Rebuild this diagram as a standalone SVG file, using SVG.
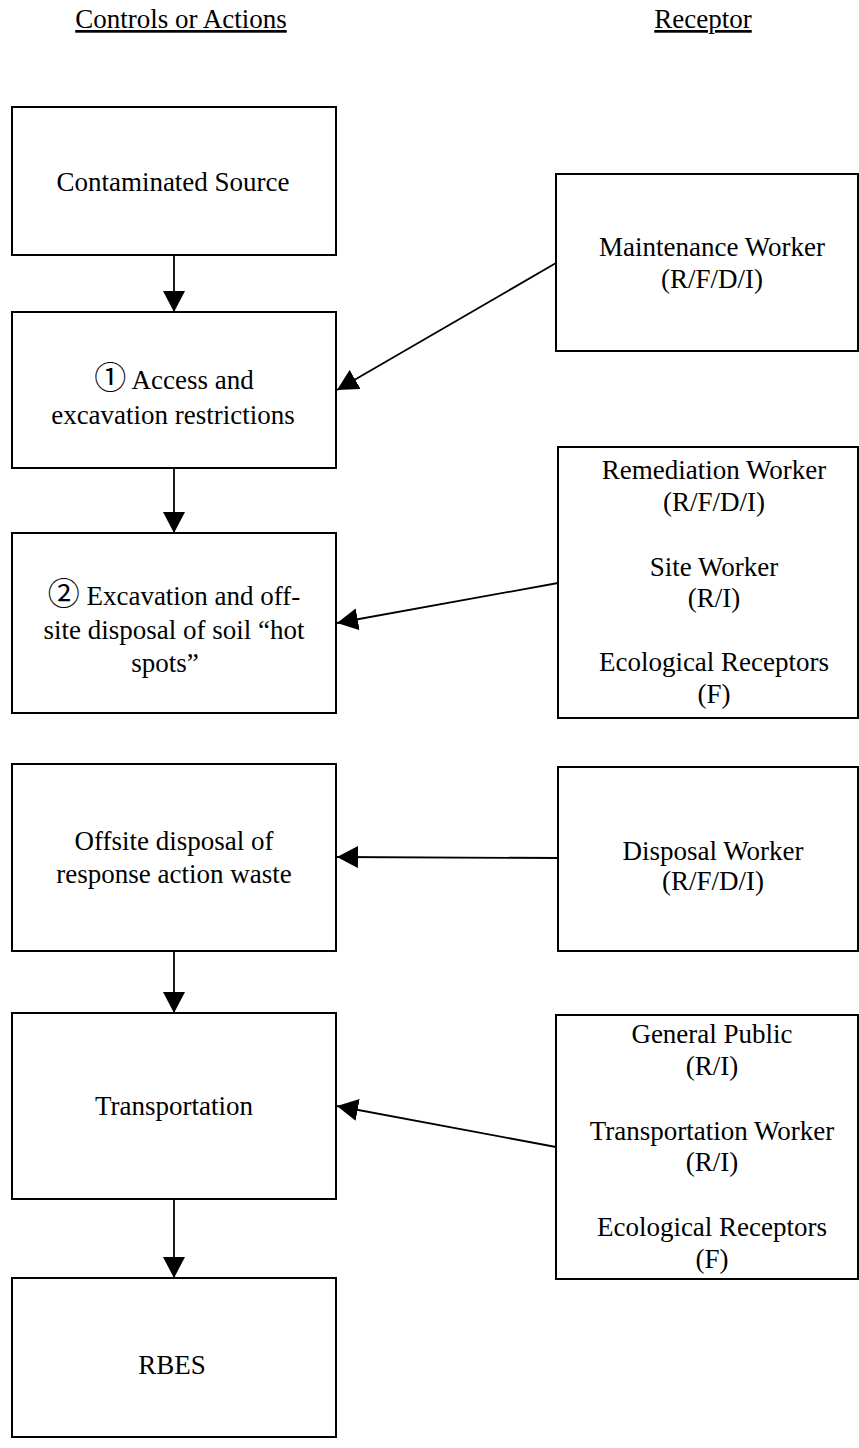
<svg xmlns="http://www.w3.org/2000/svg" width="859" height="1448" viewBox="0 0 859 1448">
  <style>
    .box { fill: #ffffff; stroke: #000000; stroke-width: 2; }
    .lbl { font-size: 27px; fill: #000000; text-anchor: middle; }
    .hdr { text-decoration: underline; }
    .num { font-size: 32px; }
    .link { fill: none; stroke: #000000; stroke-width: 1.8; marker-end: url(#head); }
  </style>
  <defs>
    <marker id="head" markerUnits="userSpaceOnUse" markerWidth="22" markerHeight="22" refX="21" refY="11" orient="auto">
      <path d="M0,0 L21,11 L0,22 Z" fill="#000000"/>
    </marker>
  </defs>
  <rect x="0" y="0" width="859" height="1448" fill="#ffffff"/>

  <g font-family="'Liberation Serif', Tinos, 'Times New Roman', 'DejaVu Serif', 'Noto Sans CJK JP', serif">
  <!-- column headings -->
  <g id="headings">
    <text class="lbl hdr" x="181" y="28">Controls or Actions</text>
    <text class="lbl hdr" x="703" y="28">Receptor</text>
  </g>

  <!-- controls / actions column -->
  <g id="contaminated-source">
    <rect class="box" x="12" y="107" width="324" height="148"/>
    <text class="lbl" x="173" y="191">Contaminated Source</text>
  </g>
  <g id="access-restrictions">
    <rect class="box" x="12" y="312" width="324" height="156"/>
    <text class="lbl" x="174" y="389"><tspan class="num">①</tspan> Access and</text>
    <text class="lbl" x="173" y="424">excavation restrictions</text>
  </g>
  <g id="hot-spot-removal">
    <rect class="box" x="12" y="533" width="324" height="180"/>
    <text class="lbl" x="174" y="605"><tspan class="num">②</tspan> Excavation and off-</text>
    <text class="lbl" x="174" y="639">site disposal of soil “hot</text>
    <text class="lbl" x="165" y="672">spots”</text>
  </g>
  <g id="offsite-disposal">
    <rect class="box" x="12" y="764" width="324" height="187"/>
    <text class="lbl" x="174" y="850">Offsite disposal of</text>
    <text class="lbl" x="174" y="883">response action waste</text>
  </g>
  <g id="transportation">
    <rect class="box" x="12" y="1013" width="324" height="186"/>
    <text class="lbl" x="174" y="1115">Transportation</text>
  </g>
  <g id="rbes">
    <rect class="box" x="12" y="1278" width="324" height="159"/>
    <text class="lbl" x="172" y="1374">RBES</text>
  </g>

  <!-- receptor column -->
  <g id="maintenance-worker">
    <rect class="box" x="556" y="174" width="302" height="177"/>
    <text class="lbl" x="712" y="256">Maintenance Worker</text>
    <text class="lbl" x="712" y="288">(R/F/D/I)</text>
  </g>
  <g id="remediation-receptors">
    <rect class="box" x="558" y="447" width="300" height="271"/>
    <text class="lbl" x="714" y="479">Remediation Worker</text>
    <text class="lbl" x="714" y="511">(R/F/D/I)</text>
    <text class="lbl" x="714" y="576">Site Worker</text>
    <text class="lbl" x="714" y="607">(R/I)</text>
    <text class="lbl" x="714" y="671">Ecological Receptors</text>
    <text class="lbl" x="714" y="703">(F)</text>
  </g>
  <g id="disposal-worker">
    <rect class="box" x="558" y="767" width="300" height="184"/>
    <text class="lbl" x="713" y="860">Disposal Worker</text>
    <text class="lbl" x="713" y="890">(R/F/D/I)</text>
  </g>
  <g id="transport-receptors">
    <rect class="box" x="556" y="1015" width="302" height="264"/>
    <text class="lbl" x="712" y="1043">General Public</text>
    <text class="lbl" x="712" y="1075">(R/I)</text>
    <text class="lbl" x="712" y="1140">Transportation Worker</text>
    <text class="lbl" x="712" y="1171">(R/I)</text>
    <text class="lbl" x="712" y="1236">Ecological Receptors</text>
    <text class="lbl" x="712" y="1268">(F)</text>
  </g>
  </g>

  <!-- connectors -->
  <g id="connectors">
    <line class="link" x1="174" y1="255" x2="174" y2="312"/>
    <line class="link" x1="174" y1="468" x2="174" y2="533"/>
    <line class="link" x1="174" y1="951" x2="174" y2="1013"/>
    <line class="link" x1="174" y1="1199" x2="174" y2="1278"/>
    <line class="link" x1="556" y1="263" x2="337" y2="390"/>
    <line class="link" x1="558" y1="583" x2="337" y2="623"/>
    <line class="link" x1="558" y1="858" x2="337" y2="857"/>
    <line class="link" x1="556" y1="1147" x2="337" y2="1106"/>
  </g>
</svg>
